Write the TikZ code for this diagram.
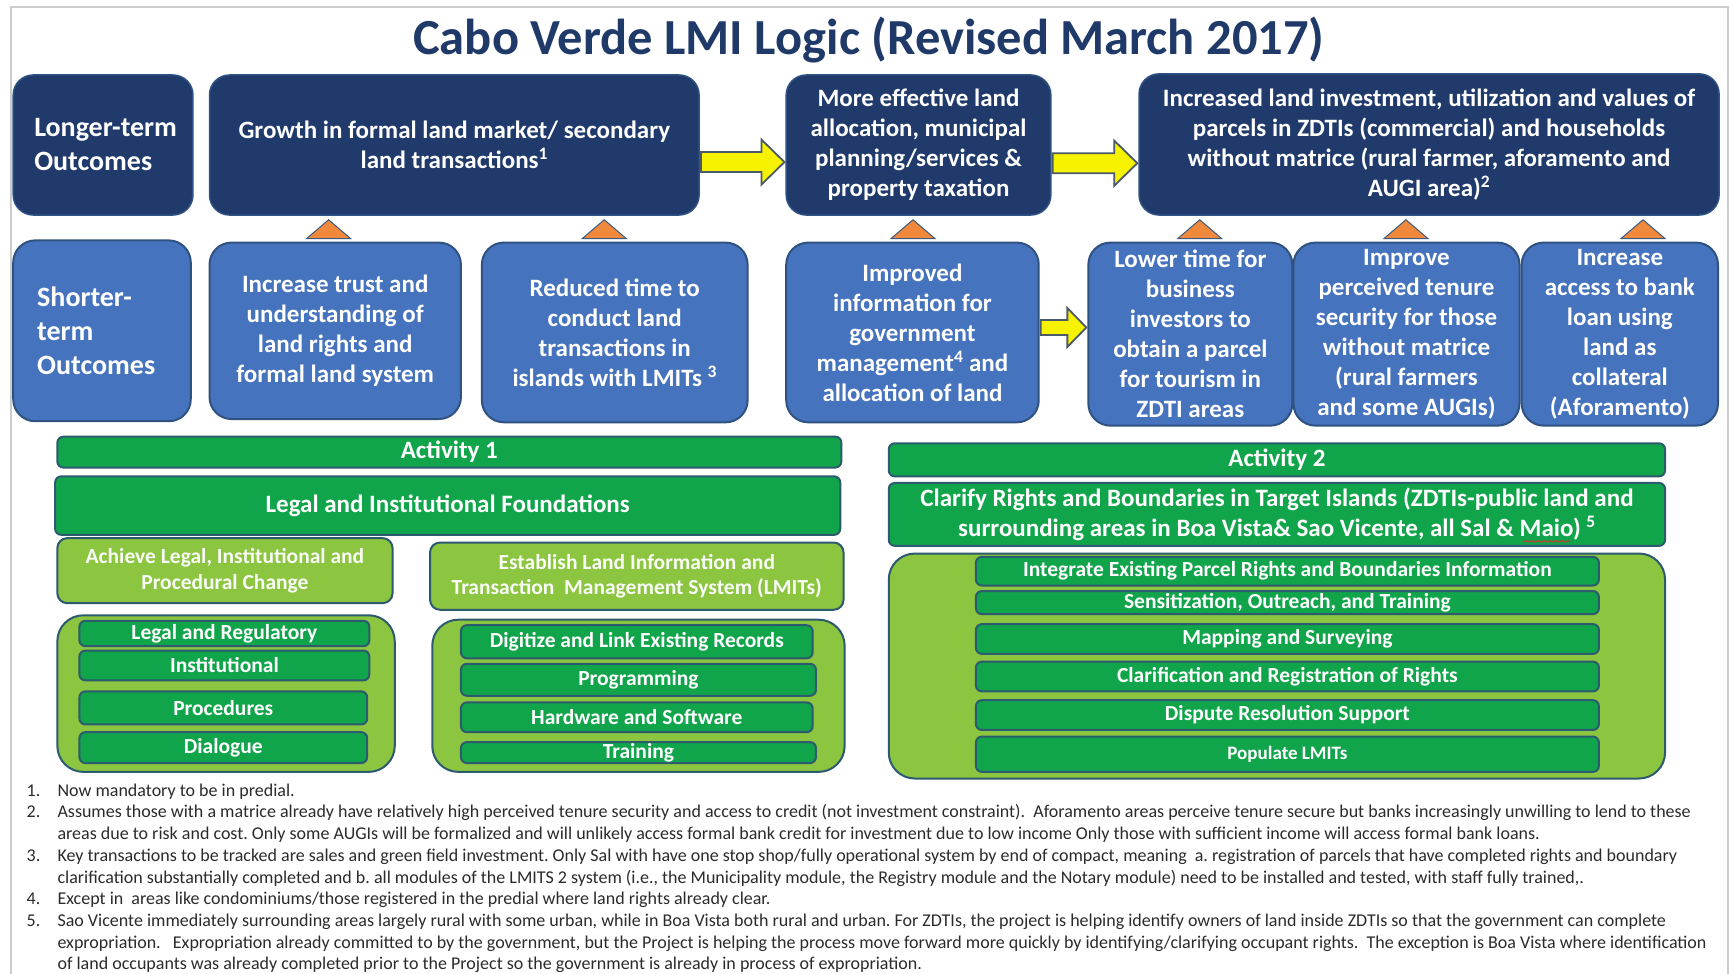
\documentclass[tikz,border=0pt]{standalone}
\usepackage{fontspec}
\setmainfont{Carlito}
\usetikzlibrary{calc,decorations.pathmorphing}
\definecolor{navy}{HTML}{203A6B}
\definecolor{navyedge}{HTML}{2E5283}
\definecolor{midblue}{HTML}{4673BD}
\definecolor{midedge}{HTML}{2F5280}
\definecolor{titlec}{HTML}{1F3A68}
\definecolor{gdark}{HTML}{10A54A}
\definecolor{gedge}{HTML}{2C5A6E}
\definecolor{glight}{HTML}{8CC540}
\definecolor{yel}{HTML}{F7F200}
\definecolor{yedge}{HTML}{4A5A6A}
\definecolor{orng}{HTML}{F0893C}
\definecolor{triedge}{HTML}{3C5A80}
\definecolor{framec}{HTML}{CCCCCC}
\definecolor{fntc}{HTML}{2B2B2B}
\definecolor{squig}{HTML}{D83030}
\newcommand\bx[7]{\node[#6, minimum width={(#4-(#2))*1.1027pt}, minimum height={(#5-(#3))*1.1027pt}] (#1) at ({(#2+#4)/2},{(#3+#5)/2}) {#7};}
\newcommand\yarrow[6]{\path[yarrowst] let \p1=(#1.east), \p2=(#2.west), \p3=(0,#3) in (\x1+1pt,\y3+#4) -- (\x2-#6,\y3+#4) -- (\x2-#6,\y3+#5) -- (\x2-1pt,\y3) -- (\x2-#6,\y3-#5) -- (\x2-#6,\y3-#4) -- (\x1+1pt,\y3-#4) -- cycle;}
\newcommand\tri[3]{\path[tristyle] let \p1=(#1.north), \p2=(#2.south), \p3=(#3,0) in (\x3-22pt,\y1+3pt) -- (\x3,\y2-4pt) -- (\x3+22pt,\y1+3pt) -- cycle;}
\tikzset{
  base/.style={rectangle, inner sep=0pt, align=center, text=white, font=\bfseries\fontsize{25}{30}\selectfont},
  dark/.style={base, fill=navy, draw=navyedge, line width=1.5pt, rounded corners=20pt},
  mid/.style={base, fill=midblue, draw=midedge, line width=2pt, rounded corners=22pt},
  hdr/.style={align=left, font=\bfseries\fontsize{28}{34}\selectfont},
  gbar/.style={base, fill=gdark, draw=gedge, line width=2pt, rounded corners=6pt},
  gsub/.style={gbar, font=\bfseries\fontsize{21.5}{25}\selectfont},
  lgbox/.style={base, fill=glight, draw=gedge, line width=2pt, rounded corners=10pt, text=white!95!glight, font=\bfseries\fontsize{21.5}{25.5}\selectfont},
  cont/.style={base, fill=glight, draw=gedge, line width=2pt, rounded corners=26pt},
  yarrowst/.style={fill=yel, draw=yedge, line width=1.8pt, line join=miter},
  tristyle/.style={fill=orng, draw=triedge, line width=1pt},
  fnote/.style={inner sep=0pt, anchor=base west, text=fntc, font=\frenchspacing\fontsize{18}{21.7}\selectfont},
}
\begin{document}
\begin{tikzpicture}[x=1.1027pt, y=-1.1027pt]
\useasboundingbox (0,0) rectangle (1568,883);
\fill[white] (0,0) rectangle (1568,883);
\draw[framec, line width=1.5pt] (10,890) -- (10,6.5) -- (1567,6.5) -- (1567,890);
\node[anchor=base, inner sep=0pt, text=titlec, font=\bfseries\fontsize{50.5}{56}\selectfont] (title) at (788,49) {Cabo Verde LMI Logic (Revised March 2017)};
% row 1
\bx{lt}{12}{68}{175}{195}{dark,hdr,text width=179.7pt}{\hspace*{21pt}Longer-term\\\hspace*{21pt}Outcomes}
\bx{growth}{190}{68}{634}{195}{dark}{Growth in formal land market/ secondary\\land transactions\textsuperscript{1}}
\bx{more}{713}{68}{953}{195}{dark}{More effective land\\allocation, municipal\\planning/services \&\\property taxation}
\bx{incr}{1033}{67}{1559}{195}{dark}{Increased land investment, utilization and values of\\parcels in ZDTIs (commercial) and households\\without matrice (rural farmer, aforamento and\\AUGI area)\textsuperscript{2}}
% arrows
\yarrow{growth}{more}{147}{10pt}{22.5pt}{24pt}
\yarrow{more}{incr}{148}{10pt}{22.5pt}{24pt}
% row 2
\bx{st}{12}{218}{173}{382}{mid,hdr,text width=177.5pt}{\hspace*{24pt}Shorter-\\\hspace*{24pt}term\\\hspace*{24pt}Outcomes}
\bx{trust}{190}{220}{418}{380}{mid}{Increase trust and\\understanding of\\land rights and\\formal land system}
\bx{reduced}{437}{220}{678}{383}{mid}{Reduced time to\\conduct land\\transactions in\\islands with LMITs \textsuperscript{3}}
\bx{improved}{713}{220}{942}{383}{mid}{Improved\\information for\\government\\management\textsuperscript{4} and\\allocation of land}
\bx{lower}{987}{220}{1172}{386}{mid}{Lower time for\\business\\investors to\\obtain a parcel\\for tourism in\\ZDTI areas}
\bx{improve}{1173}{220}{1378}{386}{mid}{Improve\\perceived tenure\\security for those\\without matrice\\(rural farmers\\and some AUGIs)}
\bx{access}{1380}{220}{1558}{386}{mid}{Increase\\access to bank\\loan using\\land as\\collateral\\(Aforamento)}
\tri{trust}{growth}{298}
\tri{reduced}{growth}{548}
\tri{improved}{more}{828}
\tri{lower}{incr}{1088}
\tri{improve}{incr}{1275}
\tri{access}{incr}{1490}
\yarrow{improved}{lower}{297}{7.5pt}{19.5pt}{20pt}
% activity 1
\bx{act1}{52}{396}{763}{424}{gbar}{Activity 1}
\bx{lif}{50}{432}{762}{485}{gbar}{Legal and Institutional Foundations}
\bx{achieve}{52}{488}{356}{547}{lgbox}{Achieve Legal, Institutional and\\Procedural Change}
\bx{estab}{390}{492}{765}{553}{lgbox}{Establish Land Information and\\Transaction\ \ Management System (LMITs)}
\bx{leftc}{52}{558}{358}{700}{cont}{}
\bx{lr}{72}{563}{335}{586}{gsub}{Legal and Regulatory}
\bx{inst}{72}{590}{335}{617}{gsub}{Institutional}
\bx{proc}{72}{627}{333}{657}{gsub}{Procedures}
\bx{dial}{72}{664}{333}{692}{gsub}{Dialogue}
\bx{rightc}{392}{562}{766}{700}{cont}{}
\bx{digit}{418}{567}{737}{597}{gsub}{Digitize and Link Existing Records}
\bx{prog}{418}{602}{740}{631}{gsub}{Programming}
\bx{hw}{418}{637}{737}{664}{gsub}{Hardware and Software}
\bx{train}{418}{673}{740}{692}{gsub}{Training}
% activity 2
\bx{act2}{806}{402}{1510}{432}{gbar}{Activity 2}
\bx{clarify}{806}{438}{1510}{495}{gbar,font=\bfseries\fontsize{25}{29.8}\selectfont}{Clarify Rights and Boundaries in Target Islands (ZDTIs-public land and\\surrounding areas in Boa Vista\& Sao Vicente, all Sal \& Maio) \textsuperscript{5}}
\draw[squig, line width=0.8pt, decorate, decoration={snake, amplitude=0.7pt, segment length=3pt}] (1381,491) -- (1424,491);
\bx{cont2}{806}{502}{1510}{706}{cont}{}
\bx{integ}{885}{505}{1450}{531}{gsub}{Integrate Existing Parcel Rights and Boundaries Information}
\bx{sens}{885}{536}{1450}{557}{gsub}{Sensitization, Outreach, and Training}
\bx{mapg}{885}{566}{1450}{593}{gsub}{Mapping and Surveying}
\bx{clar}{885}{600}{1450}{627}{gsub}{Clarification and Registration of Rights}
\bx{disp}{885}{635}{1450}{662}{gsub}{Dispute Resolution Support}
\bx{pop}{885}{668}{1450}{700}{gsub,font=\bfseries\fontsize{19}{22}\selectfont}{Populate LMITs}
% footnotes
\node[fnote] (n1) at (24,722) {1.};
\node[fnote] (t1) at (52,722) {Now mandatory to be in predial.};
\node[fnote] (n2) at (24,741.7) {2.};
\node[fnote] (t2a) at (52,741.7) {Assumes those with a matrice already have relatively high perceived tenure security and access to credit (not investment constraint).\ \ Aforamento areas perceive tenure secure but banks increasingly unwilling to lend to these};
\node[fnote] (t2b) at (52,761.4) {areas due to risk and cost. Only some AUGIs will be formalized and will unlikely access formal bank credit for investment due to low income Only those with sufficient income will access formal bank loans.};
\node[fnote] (n3) at (24,781.1) {3.};
\node[fnote] (t3a) at (52,781.1) {Key transactions to be tracked are sales and green field investment. Only Sal with have one stop shop/fully operational system by end of compact, meaning\ \ a. registration of parcels that have completed rights and boundary};
\node[fnote] (t3b) at (52,800.8) {clarification substantially completed and b. all modules of the LMITS 2 system (i.e., the Municipality module, the Registry module and the Notary module) need to be installed and tested, with staff fully trained,.};
\node[fnote] (n4) at (24,820.5) {4.};
\node[fnote] (t4) at (52,820.5) {Except in\ \ areas like condominiums/those registered in the predial where land rights already clear.};
\node[fnote] (n5) at (24,840.2) {5.};
\node[fnote] (t5a) at (52,840.2) {Sao Vicente immediately surrounding areas largely rural with some urban, while in Boa Vista both rural and urban. For ZDTIs, the project is helping identify owners of land inside ZDTIs so that the government can complete};
\node[fnote] (t5b) at (52,859.9) {expropriation.\ \ \ Expropriation already committed to by the government, but the Project is helping the process move forward more quickly by identifying/clarifying occupant rights.\ \ The exception is Boa Vista where identification};
\node[fnote] (t5c) at (52,879.6) {of land occupants was already completed prior to the Project so the government is already in process of expropriation.};
\end{tikzpicture}
\end{document}
